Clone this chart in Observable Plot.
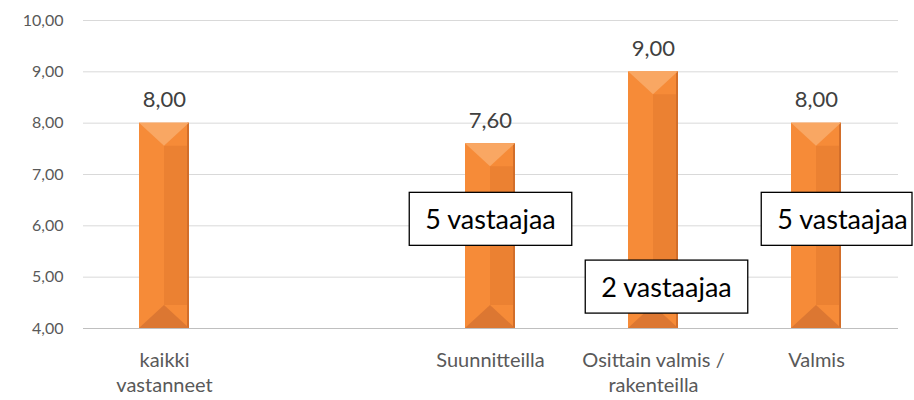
<!DOCTYPE html>
<html>
<head>
<meta charset="utf-8">
<script src="https://cdn.jsdelivr.net/npm/d3@7"></script>
<script src="https://cdn.jsdelivr.net/npm/@observablehq/plot@0.6"></script>
<style>
  html, body { margin: 0; padding: 0; background: #fff; }
  svg { font-family: Lato, "Liberation Sans", sans-serif; }
</style>
</head>
<body>
<div id="chart"></div>
<script>
// Categories along the x axis (one empty slot between the first and the rest)
const categories = ["kaikki vastanneet", "gap", "Suunnitteilla", "Osittain valmis / rakenteilla", "Valmis"];
const categoryLabels = ["kaikki\nvastanneet", "", "Suunnitteilla", "Osittain valmis /\nrakenteilla", "Valmis"];

// Bar values
const barCategories = ["kaikki vastanneet", "Suunnitteilla", "Osittain valmis / rakenteilla", "Valmis"];
const barValues = [8.00, 7.60, 9.00, 8.00];

// Y-axis ticks
const yTicks = [4, 5, 6, 7, 8, 9, 10];

// Annotation boxes (respondent counts)
const noteCategories = ["Suunnitteilla", "Osittain valmis / rakenteilla", "Valmis"];
const noteValues = [6.10, 4.78, 6.10];
const noteTexts = ["5 vastaajaa", "2 vastaajaa", "5 vastaajaa"];

const fmt = d => d3.format(".2f")(d).replace(".", ",");
const bars = barCategories.map((c, i) => ({cat: c, value: barValues[i]}));
const notes = noteCategories.map((c, i) => ({cat: c, value: noteValues[i], text: noteTexts[i]}));
const labelOf = Object.fromEntries(categories.map((c, i) => [c, categoryLabels[i]]));
const noteDx = [0, 13, 26];

const W = 914, H = 400;

// bevel-like decoration drawn on top of each bar rect
function bevel(index, scales, values, dimensions, context, next) {
  const g = next(index, scales, values, dimensions, context);
  const ns = "http://www.w3.org/2000/svg";
  g.querySelectorAll("rect").forEach(r => {
    const x = +r.getAttribute("x"), y = +r.getAttribute("y");
    const w = +r.getAttribute("width"), h = +r.getAttribute("height");
    const d = Math.min(w / 2 - 2, h / 2);
    const add = (pts, fill) => {
      const p = document.createElementNS(ns, "polygon");
      p.setAttribute("points", pts.map(q => q.join(",")).join(" "));
      p.setAttribute("fill", fill);
      g.appendChild(p);
    };
    add([[x + w / 2, y + d], [x + w, y + d], [x + w, y + h - d], [x + w / 2, y + h - d]], "#EB8132");
    add([[x + w - 2, y], [x + w, y], [x + w, y + h], [x + w - 2, y + h]], "#D26E2A");
    add([[x, y], [x + w, y], [x + w / 2, y + d]], "#F9A763");
    add([[x, y + h], [x + w, y + h], [x + w / 2, y + h - d]], "#DC7732");
  });
  return g;
}

const chart = Plot.plot({
  width: W,
  height: H,
  marginLeft: 83,
  marginRight: 16,
  marginTop: 20,
  marginBottom: 72,
  style: {fontFamily: "Lato, 'Liberation Sans', sans-serif", background: "#fff"},
  x: {domain: categories, paddingInner: 0.693, paddingOuter: 0.3465, align: 0.5},
  y: {domain: [4, 10]},
  marks: [
    Plot.ruleY(yTicks.filter(t => t > 4), {stroke: "#d9d9d9", strokeWidth: 1}),
    Plot.axisY({ticks: yTicks, tickSize: 0, tickPadding: 20, tickFormat: fmt, fontSize: 16, fill: "#595959", label: null}),
    Plot.axisX({tickSize: 0, tickPadding: 21, fontSize: 20, fill: "#595959", label: null, tickFormat: c => labelOf[c], lineHeight: 1.25}),
    Plot.barY(bars, {x: "cat", y1: 4, y2: "value", fill: "#F68B38", render: bevel}),
    Plot.ruleY([4], {stroke: "#bfbfbf", strokeWidth: 1}),
    Plot.text(bars, {x: "cat", y: "value", text: d => fmt(d.value), dy: -23, fontSize: 22, fill: "#404040"}),
    ...notes.map((n, i) => Plot.text([n], {x: "cat", y: "value", text: "text", dx: noteDx[i], fontSize: 27, fill: "#000", className: "note"}))
  ]
});

document.getElementById("chart").appendChild(chart);

// white boxes with black border behind the annotation texts
chart.querySelectorAll("g.note text").forEach(t => {
  const b = t.getBBox();
  const ctm = t.getCTM();
  const padX = 16, padY = 10;
  let x0 = b.x - padX, x1 = b.x + b.width + padX;
  const off = ctm ? ctm.e : 0;
  if (x1 + off > W - 2) x1 = W - 2 - off;
  const r = document.createElementNS("http://www.w3.org/2000/svg", "rect");
  r.setAttribute("x", x0);
  r.setAttribute("y", b.y - padY);
  r.setAttribute("width", x1 - x0);
  r.setAttribute("height", b.height + 2 * padY);
  r.setAttribute("fill", "#fff");
  r.setAttribute("stroke", "#000");
  r.setAttribute("stroke-width", 1.3);
  if (t.getAttribute("transform")) r.setAttribute("transform", t.getAttribute("transform"));
  t.parentNode.insertBefore(r, t);
});
</script>
</body>
</html>
